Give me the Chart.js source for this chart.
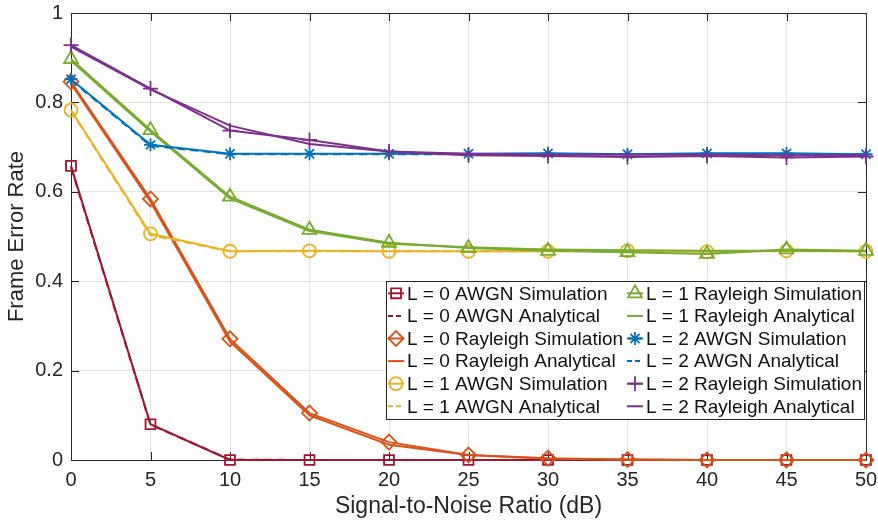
<!DOCTYPE html>
<html>
<head>
<meta charset="utf-8">
<title>Frame Error Rate vs SNR</title>
<script src="https://cdn.jsdelivr.net/npm/chart.js@4.4.1/dist/chart.umd.min.js"></script>
<style>
  html, body { margin: 0; padding: 0; background: #fff; }
  #wrap { width: 878px; height: 525px; }
</style>
</head>
<body>
<div id="wrap"><canvas id="ferChart" width="878" height="525"></canvas></div>
<script>
// SNR values (dB) on the x axis
const snr = [0, 5, 10, 15, 20, 25, 30, 35, 40, 45, 50];
const xTicks = [0, 5, 10, 15, 20, 25, 30, 35, 40, 45, 50];
const xTickLabels = ['0', '5', '10', '15', '20', '25', '30', '35', '40', '45', '50'];
const yTicks = [0, 0.2, 0.4, 0.6, 0.8, 1];
const yTickLabels = ['0', '0.2', '0.4', '0.6', '0.8', '1'];

// frame error rates
const l0AwgnSim = [0.658, 0.080, 0, 0, 0, 0, 0, 0, 0, 0, 0];
const l0AwgnAna = [0.655, 0.079, 0.001, 0, 0, 0, 0, 0, 0, 0, 0];
const l0RaySim  = [0.846, 0.584, 0.271, 0.105, 0.040, 0.011, 0.004, 0.001, 0, 0, 0];
const l0RayAna  = [0.842, 0.578, 0.265, 0.100, 0.034, 0.011, 0.003, 0.001, 0, 0, 0];
const l1AwgnSim = [0.783, 0.506, 0.467, 0.468, 0.467, 0.467, 0.467, 0.468, 0.466, 0.468, 0.467];
const l1AwgnAna = [0.781, 0.503, 0.467, 0.467, 0.467, 0.467, 0.467, 0.467, 0.467, 0.467, 0.467];
const l1RaySim  = [0.897, 0.738, 0.589, 0.515, 0.486, 0.474, 0.468, 0.465, 0.461, 0.471, 0.468];
const l1RayAna  = [0.893, 0.735, 0.585, 0.512, 0.484, 0.476, 0.471, 0.469, 0.468, 0.468, 0.467];
const l2AwgnSim = [0.852, 0.705, 0.685, 0.685, 0.685, 0.685, 0.686, 0.684, 0.686, 0.686, 0.684];
const l2AwgnAna = [0.850, 0.703, 0.684, 0.684, 0.684, 0.684, 0.684, 0.684, 0.684, 0.684, 0.684];
const l2RaySim  = [0.928, 0.831, 0.737, 0.716, 0.690, 0.682, 0.680, 0.678, 0.680, 0.677, 0.679];
const l2RayAna  = [0.925, 0.829, 0.748, 0.707, 0.690, 0.685, 0.683, 0.683, 0.683, 0.682, 0.682];

const FONT = '"Liberation Sans", Arial, Helvetica, sans-serif';
const AXIS_COLOR = '#262626';

const RED = '#A2142F', ORANGE = '#D95319', YELLOW = '#EDB120',
      GREEN = '#77AC30', BLUE = '#0072BD', PURPLE = '#7E2F8E';

function sim(label, values, color, style, radius) {
    return {
        label: label,
        data: snr.map((x, i) => ({ x: x, y: values[i] })),
        borderColor: color,
        backgroundColor: 'rgba(0,0,0,0)',
        borderWidth: 2,
        pointStyle: style,
        pointRadius: radius,
        pointBorderColor: color,
        pointBackgroundColor: 'rgba(0,0,0,0)',
        pointBorderWidth: 1.8,
        tension: 0,
        clip: false
    };
}

function ana(label, values, color, dashed) {
    return {
        label: label,
        data: snr.map((x, i) => ({ x: x, y: values[i] })),
        borderColor: color,
        backgroundColor: 'rgba(0,0,0,0)',
        borderWidth: 2,
        borderDash: dashed ? [8, 5] : [],
        pointRadius: 0,
        tension: 0,
        clip: false
    };
}

const datasets = [
    sim('L = 0 AWGN Simulation', l0AwgnSim, RED, 'rect', 7),
    ana('L = 0 AWGN Analytical', l0AwgnAna, RED, true),
    sim('L = 0 Rayleigh Simulation', l0RaySim, ORANGE, 'rectRot', 7.5),
    ana('L = 0 Rayleigh Analytical', l0RayAna, ORANGE, false),
    sim('L = 1 AWGN Simulation', l1AwgnSim, YELLOW, 'circle', 6.5),
    ana('L = 1 AWGN Analytical', l1AwgnAna, YELLOW, true),
    sim('L = 1 Rayleigh Simulation', l1RaySim, GREEN, 'triangle', 8),
    ana('L = 1 Rayleigh Analytical', l1RayAna, GREEN, false),
    sim('L = 2 AWGN Simulation', l2AwgnSim, BLUE, 'star', 6.5),
    ana('L = 2 AWGN Analytical', l2AwgnAna, BLUE, true),
    sim('L = 2 Rayleigh Simulation', l2RaySim, PURPLE, 'cross', 7.5),
    ana('L = 2 Rayleigh Analytical', l2RayAna, PURPLE, false)
];
// later series drawn on top, like the original plot
datasets.forEach((d, i) => { d.order = -i; });

// box around the axes with inward ticks
const boxAxes = {
    id: 'boxAxes',
    beforeDatasetsDraw(chart) {
        const ctx = chart.ctx;
        const a = chart.chartArea;
        const xs = chart.scales.x, ys = chart.scales.y;
        const tl = 8;
        ctx.save();
        ctx.strokeStyle = AXIS_COLOR;
        ctx.lineWidth = 1;
        ctx.beginPath();
        ctx.rect(a.left + 0.5, a.top + 0.5, a.right - a.left, a.bottom - a.top);
        xTicks.forEach(v => {
            const px = Math.round(xs.getPixelForValue(v)) + 0.5;
            ctx.moveTo(px, a.bottom);
            ctx.lineTo(px, a.bottom - tl);
            ctx.moveTo(px, a.top);
            ctx.lineTo(px, a.top + tl);
        });
        yTicks.forEach(v => {
            const py = Math.round(ys.getPixelForValue(v)) + 0.5;
            ctx.moveTo(a.left, py);
            ctx.lineTo(a.left + tl, py);
            ctx.moveTo(a.right, py);
            ctx.lineTo(a.right - tl, py);
        });
        ctx.stroke();
        ctx.restore();
    }
};

function marker(ctx, style, radius, x, y) {
    if (Chart.helpers && Chart.helpers.drawPoint) {
        Chart.helpers.drawPoint(ctx, { pointStyle: style, radius: radius, borderWidth: 1.8, rotation: 0 }, x, y);
    }
}

// two-column legend inside the plot, lower right
const boxLegend = {
    id: 'boxLegend',
    afterDraw(chart) {
        const ctx = chart.ctx;
        const a = chart.chartArea;
        const sets = chart.data.datasets;
        const rows = Math.ceil(sets.length / 2);
        const rowH = 22.6;
        const iconW = 20;
        ctx.save();
        ctx.font = '19px ' + FONT;
        const cols = [sets.slice(0, rows), sets.slice(rows)];
        const widths = cols.map(c => iconW + Math.max(...c.map(d => ctx.measureText(d.label).width)) + 3);
        const boxW = widths[0] + widths[1];
        const boxH = rows * rowH + 2;
        const right = a.right - 2;
        const left = right - boxW;
        const top = a.top + 268;

        ctx.fillStyle = '#ffffff';
        ctx.fillRect(left, top, boxW, boxH);
        ctx.strokeStyle = AXIS_COLOR;
        ctx.lineWidth = 1;
        ctx.strokeRect(Math.round(left) + 0.5, Math.round(top) + 0.5, Math.round(boxW), Math.round(boxH));

        let x0 = left;
        cols.forEach((c, ci) => {
            c.forEach((d, ri) => {
                const cy = top + 1 + rowH * (ri + 0.5);
                const cx = x0 + 10;
                ctx.strokeStyle = d.borderColor;
                ctx.lineWidth = d.borderWidth;
                ctx.setLineDash(d.borderDash && d.borderDash.length ? [5, 3] : []);
                ctx.beginPath();
                ctx.moveTo(cx - 8, cy);
                ctx.lineTo(cx + 8, cy);
                ctx.stroke();
                ctx.setLineDash([]);
                if (d.pointRadius > 0) {
                    ctx.fillStyle = 'rgba(0,0,0,0)';
                    ctx.lineWidth = d.pointBorderWidth;
                    marker(ctx, d.pointStyle, d.pointRadius, cx, cy);
                }
                ctx.fillStyle = '#111111';
                ctx.textAlign = 'left';
                ctx.textBaseline = 'middle';
                ctx.fillText(d.label, x0 + iconW + 1, cy + 1);
            });
            x0 += widths[ci];
        });
        ctx.restore();
    }
};

const ctx = document.getElementById('ferChart');

new Chart(ctx, {
    type: 'line',
    data: { datasets: datasets },
    options: {
        responsive: false,
        animation: false,
        layout: { padding: { top: 13, right: 12, left: 0, bottom: 0 } },
        plugins: {
            legend: { display: false },
            tooltip: { enabled: false }
        },
        scales: {
            x: {
                type: 'linear',
                min: 0,
                max: 50,
                afterBuildTicks: s => { s.ticks = xTicks.map(v => ({ value: v })); },
                afterFit: s => { s.height = 65; s.paddingLeft = 0; s.paddingRight = 0; },
                ticks: {
                    callback: v => xTickLabels[xTicks.indexOf(v)],
                    font: { family: FONT, size: 20 },
                    color: AXIS_COLOR,
                    padding: 8,
                    maxRotation: 0,
                    autoSkip: false
                },
                grid: { color: '#e3e3e3', lineWidth: 1, drawTicks: false },
                border: { display: false },
                title: {
                    display: true,
                    text: 'Signal-to-Noise Ratio (dB)',
                    font: { family: FONT, size: 23 },
                    color: AXIS_COLOR,
                    padding: { top: 0, bottom: 5 }
                }
            },
            y: {
                type: 'linear',
                min: 0,
                max: 1,
                afterBuildTicks: s => { s.ticks = yTicks.map(v => ({ value: v })); },
                afterFit: s => { s.width = 71; s.paddingTop = 0; s.paddingBottom = 0; },
                ticks: {
                    callback: v => yTickLabels[yTicks.indexOf(v)],
                    font: { family: FONT, size: 20 },
                    color: AXIS_COLOR,
                    padding: 8,
                    autoSkip: false
                },
                grid: { color: '#e3e3e3', lineWidth: 1, drawTicks: false },
                border: { display: false },
                title: {
                    display: true,
                    text: 'Frame Error Rate',
                    font: { family: FONT, size: 22 },
                    color: AXIS_COLOR,
                    padding: { top: 4, bottom: 0 }
                }
            }
        }
    },
    plugins: [boxAxes, boxLegend]
});
</script>
</body>
</html>
